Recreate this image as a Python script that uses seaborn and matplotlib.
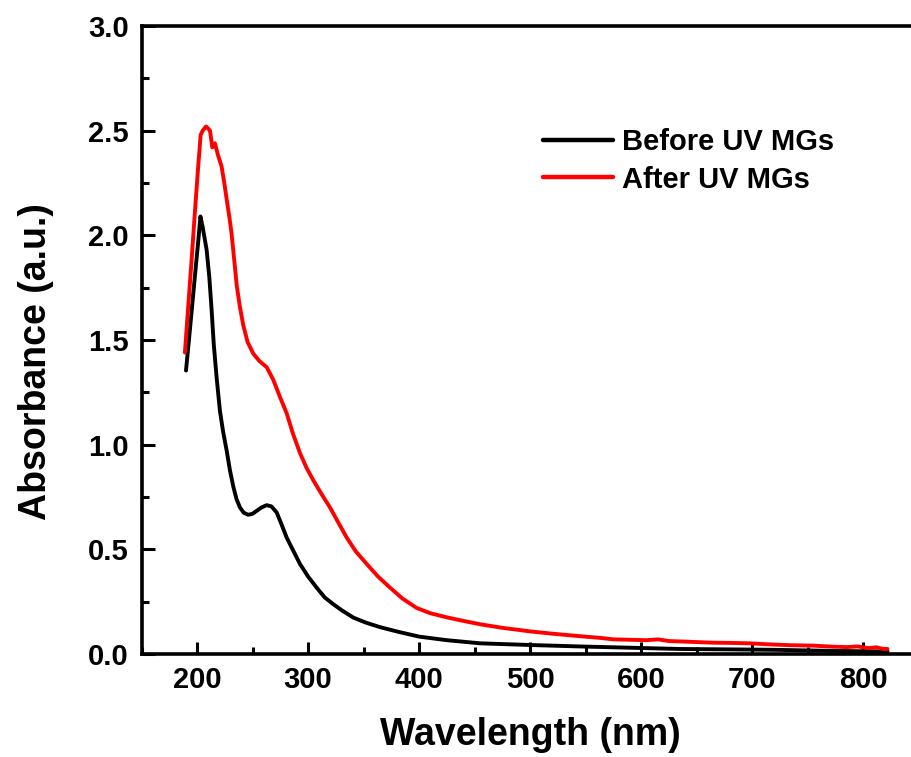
import matplotlib
matplotlib.use("Agg")
import matplotlib.pyplot as plt
from matplotlib.ticker import MultipleLocator, FormatStrFormatter
import seaborn as sns
import pandas as pd

before_wl = [190, 193, 196, 199, 201, 203, 205, 208.6, 211, 213, 215, 217.6, 220.6, 223.5,
             226.7, 229.5, 232.6, 235.5, 238.6, 242, 246, 250, 253.7, 258, 262.7, 267, 271.7,
             276, 280.7, 286, 292.7, 300, 307.7, 315, 322.7, 330, 340.7, 352, 365, 382, 400,
             425, 455, 500, 545, 590, 635, 680, 720, 760, 800, 822]
before_abs = [1.354, 1.52, 1.69, 1.86, 1.97, 2.09, 2.04, 1.93, 1.80, 1.65, 1.48, 1.32, 1.16, 1.06,
              0.97, 0.88, 0.80, 0.74, 0.70, 0.675, 0.665, 0.67, 0.684, 0.70, 0.711, 0.705, 0.676,
              0.62, 0.556, 0.50, 0.43, 0.37, 0.317, 0.27, 0.238, 0.21, 0.174, 0.15, 0.128, 0.105, 0.083,
              0.066, 0.051, 0.043, 0.036, 0.030, 0.024, 0.022, 0.020, 0.016, 0.013, 0.012]

after_wl = [189, 192, 195, 198, 201, 203.2, 205, 206.5, 208, 210, 211.6, 213.7, 216, 219, 222,
            224.5, 226.7, 229, 231, 233.5, 235.7, 238.5, 241.6, 245.5, 250.6, 256, 262.7, 268.6,
            274.5, 280.7, 286.5, 292.7, 298.5, 304.7, 312, 319.7, 327, 334.8, 343, 352.8, 363,
            373.8, 385, 397.8, 410, 425, 440, 455, 475, 500, 520, 545, 563, 575, 590, 605, 615,
            625, 635, 650, 665, 680, 698, 715, 735, 755, 773, 785, 795, 805, 812, 818, 822]
after_abs = [1.44, 1.66, 1.88, 2.11, 2.33, 2.48, 2.50, 2.51, 2.52, 2.51, 2.50, 2.42, 2.44, 2.38, 2.33,
             2.25, 2.17, 2.09, 2.01, 1.88, 1.76, 1.66, 1.57, 1.49, 1.435, 1.40, 1.37, 1.31,
             1.23, 1.15, 1.05, 0.96, 0.89, 0.83, 0.765, 0.70, 0.63, 0.556, 0.49, 0.43, 0.37,
             0.317, 0.265, 0.22, 0.195, 0.175, 0.158, 0.142, 0.125, 0.108, 0.097, 0.085, 0.077,
             0.070, 0.068, 0.066, 0.070, 0.062, 0.060, 0.057, 0.054, 0.053, 0.051, 0.046, 0.042,
             0.040, 0.035, 0.033, 0.036, 0.028, 0.032, 0.024, 0.024]

labels = ["Before UV MGs", "After UV MGs"]
colors = ["#000000", "#ff0000"]

df = pd.concat([
    pd.DataFrame({"Wavelength": before_wl, "Absorbance": before_abs, "Sample": labels[0]}),
    pd.DataFrame({"Wavelength": after_wl, "Absorbance": after_abs, "Sample": labels[1]}),
], ignore_index=True)

sns.set_style("ticks")
plt.rcParams["font.family"] = ["Liberation Sans", "DejaVu Sans"]
plt.rcParams["font.weight"] = "bold"
plt.rcParams["text.color"] = "black"
plt.rcParams["axes.labelcolor"] = "black"
plt.rcParams["xtick.color"] = "black"
plt.rcParams["ytick.color"] = "black"
plt.rcParams["axes.edgecolor"] = "black"

fig = plt.figure(figsize=(9.12, 7.57), dpi=100)
ax = fig.add_axes([141.6 / 912, 103 / 757, 777 / 912, 628 / 757])

sns.lineplot(data=df, x="Wavelength", y="Absorbance", hue="Sample",
             palette=dict(zip(labels, colors)), linewidth=2.8, ax=ax,
             sort=False, estimator=None)

ax.set_xlim(150, 850)
ax.set_ylim(0, 3.0)
ax.set_xticks([200, 300, 400, 500, 600, 700, 800])
ax.xaxis.set_minor_locator(MultipleLocator(50))
ax.yaxis.set_major_locator(MultipleLocator(0.5))
ax.yaxis.set_minor_locator(MultipleLocator(0.25))
ax.yaxis.set_major_formatter(FormatStrFormatter("%.1f"))

ax.tick_params(which="major", direction="in", length=9, width=2.2, labelsize=21,
               pad=9, top=False, right=False, colors="black")
ax.tick_params(which="minor", direction="in", length=5, width=2.2, top=False, right=False,
               colors="black")
for lab in ax.get_xticklabels() + ax.get_yticklabels():
    lab.set_fontweight("bold")

for s in ax.spines.values():
    s.set_linewidth(2.6)
    s.set_color("black")
    s.set_visible(True)

ax.set_xlabel("Wavelength (nm)", fontsize=27, fontweight="bold", labelpad=16)
ax.set_ylabel("Absorbance (a.u.)", fontsize=27, fontweight="bold", labelpad=25)
ax.yaxis.label.set_y(0.465)

leg = ax.legend(frameon=False, fontsize=21, loc="upper left",
                bbox_to_anchor=((543 - 141.6) / 777, 0.838), handlelength=2.4,
                handletextpad=0.3, labelspacing=0.34, borderaxespad=0, borderpad=0)
for t in leg.get_texts():
    t.set_fontweight("bold")
for l in leg.get_lines():
    l.set_linewidth(3.2)

fig.savefig("out.png", dpi=100)
